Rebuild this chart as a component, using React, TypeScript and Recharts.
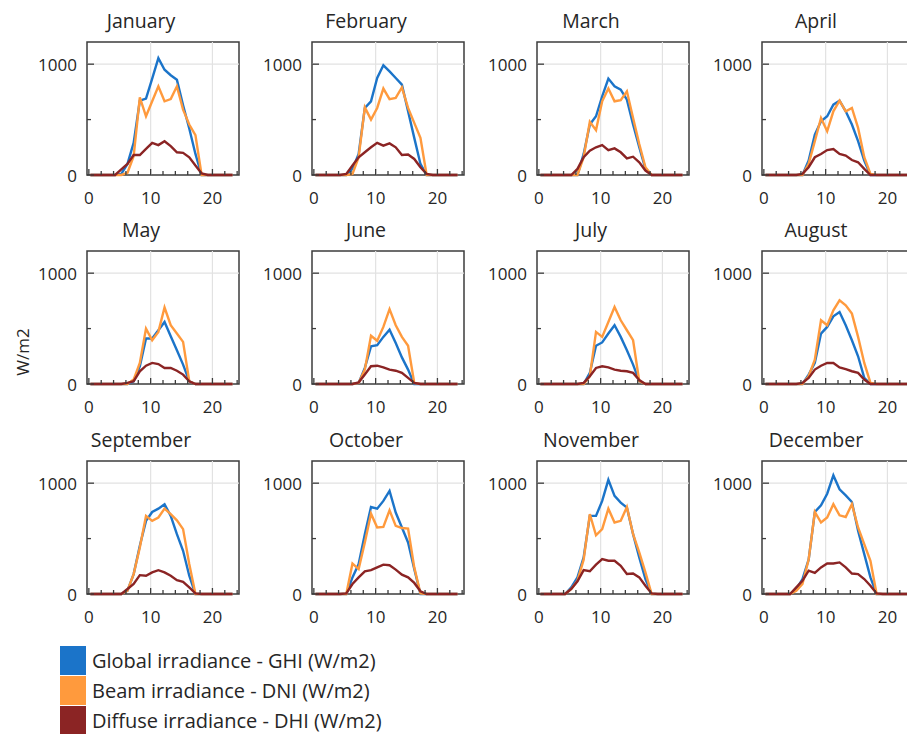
import React from 'react';
import { LineChart, Line, XAxis, YAxis, ReferenceLine, ReferenceArea } from 'recharts';

// hourly sample positions (hour of day)
const HOURS = [
  0.25, 1.25, 2.25, 3.25, 4.25, 5.25, 6.25, 7.25, 8.25, 9.25, 10.25, 11.25,
  12.25, 13.25, 14.25, 15.25, 16.25, 17.25, 18.25, 19.25, 20.25, 21.25, 22.25, 23.25,
];

const MONTHS = [
  'January', 'February', 'March', 'April', 'May', 'June',
  'July', 'August', 'September', 'October', 'November', 'December',
];

// Global irradiance - GHI (W/m2), one row per month, hours 0..23
const GHI = [
  [0, 0, 0, 0, 0, 10, 100, 290, 670, 690, 870, 1055, 950, 900, 860, 630, 420, 190, 0, 0, 0, 0, 0, 0],
  [0, 0, 0, 0, 0, 0, 55, 190, 605, 665, 875, 990, 935, 875, 815, 575, 335, 100, 0, 0, 0, 0, 0, 0],
  [0, 0, 0, 0, 0, 0, 0, 190, 455, 530, 710, 870, 800, 770, 680, 455, 250, 55, 0, 0, 0, 0, 0, 0],
  [0, 0, 0, 0, 0, 0, 0, 130, 365, 485, 530, 635, 670, 575, 455, 305, 130, 0, 0, 0, 0, 0, 0, 0],
  [0, 0, 0, 0, 0, 0, 0, 25, 160, 410, 410, 485, 560, 430, 305, 175, 25, 0, 0, 0, 0, 0, 0, 0],
  [0, 0, 0, 0, 0, 0, 0, 10, 145, 340, 350, 425, 490, 370, 240, 130, 0, 0, 0, 0, 0, 0, 0, 0],
  [0, 0, 0, 0, 0, 0, 0, 0, 100, 345, 375, 455, 530, 425, 305, 175, 25, 0, 0, 0, 0, 0, 0, 0],
  [0, 0, 0, 0, 0, 0, 0, 85, 190, 455, 515, 610, 650, 530, 395, 250, 55, 0, 0, 0, 0, 0, 0, 0],
  [0, 0, 0, 0, 0, 0, 30, 180, 435, 660, 740, 770, 810, 705, 540, 390, 165, 0, 0, 0, 0, 0, 0, 0],
  [0, 0, 0, 0, 0, 0, 150, 270, 540, 785, 770, 840, 930, 735, 600, 465, 225, 0, 0, 0, 0, 0, 0, 0],
  [0, 0, 0, 0, 0, 60, 150, 330, 705, 705, 840, 1030, 885, 825, 780, 540, 330, 135, 0, 0, 0, 0, 0, 0],
  [0, 0, 0, 0, 0, 45, 135, 310, 740, 800, 905, 1070, 945, 890, 830, 570, 360, 150, 0, 0, 0, 0, 0, 0],
];

// Beam irradiance - DNI (W/m2)
const DNI = [
  [0, 0, 0, 0, 0, 0, 20, 170, 700, 530, 665, 800, 665, 685, 800, 590, 455, 360, 0, 0, 0, 0, 0, 0],
  [0, 0, 0, 0, 0, 0, 10, 160, 610, 500, 605, 780, 685, 695, 790, 605, 470, 335, 0, 0, 0, 0, 0, 0],
  [0, 0, 0, 0, 0, 0, 0, 160, 480, 405, 665, 780, 665, 675, 755, 515, 280, 70, 0, 0, 0, 0, 0, 0],
  [0, 0, 0, 0, 0, 0, 0, 100, 305, 515, 395, 575, 670, 575, 605, 425, 160, 10, 0, 0, 0, 0, 0, 0],
  [0, 0, 0, 0, 0, 0, 0, 40, 190, 500, 395, 470, 690, 530, 455, 380, 25, 0, 0, 0, 0, 0, 0, 0],
  [0, 0, 0, 0, 0, 0, 0, 10, 130, 435, 390, 515, 675, 530, 425, 345, 10, 0, 0, 0, 0, 0, 0, 0],
  [0, 0, 0, 0, 0, 0, 0, 0, 70, 470, 425, 560, 695, 575, 485, 395, 25, 0, 0, 0, 0, 0, 0, 0],
  [0, 0, 0, 0, 0, 0, 0, 70, 220, 575, 530, 665, 755, 710, 635, 425, 190, 10, 0, 0, 0, 0, 0, 0],
  [0, 0, 0, 0, 0, 0, 30, 180, 420, 705, 660, 690, 770, 720, 665, 585, 270, 0, 0, 0, 0, 0, 0, 0],
  [0, 0, 0, 0, 0, 0, 275, 225, 465, 725, 600, 605, 755, 615, 595, 590, 240, 5, 0, 0, 0, 0, 0, 0],
  [0, 0, 0, 0, 0, 45, 120, 310, 720, 530, 585, 770, 645, 660, 785, 540, 375, 195, 0, 0, 0, 0, 0, 0],
  [0, 0, 0, 0, 0, 30, 90, 310, 740, 645, 690, 810, 710, 695, 810, 600, 450, 300, 0, 0, 0, 0, 0, 0],
];

// Diffuse irradiance - DHI (W/m2)
const DHI = [
  [0, 0, 0, 0, 0, 50, 100, 180, 180, 235, 290, 270, 305, 260, 205, 200, 160, 85, 15, 0, 0, 0, 0, 0],
  [0, 0, 0, 0, 0, 10, 85, 160, 205, 250, 290, 265, 285, 250, 180, 185, 145, 70, 10, 0, 0, 0, 0, 0],
  [0, 0, 0, 0, 0, 0, 55, 160, 220, 250, 270, 225, 240, 205, 150, 165, 115, 40, 0, 0, 0, 0, 0, 0],
  [0, 0, 0, 0, 0, 0, 10, 70, 160, 190, 225, 235, 190, 175, 135, 115, 55, 0, 0, 0, 0, 0, 0, 0],
  [0, 0, 0, 0, 0, 0, 10, 25, 115, 165, 190, 180, 145, 145, 120, 85, 25, 0, 0, 0, 0, 0, 0, 0],
  [0, 0, 0, 0, 0, 0, 0, 15, 85, 160, 165, 150, 130, 120, 100, 55, 10, 0, 0, 0, 0, 0, 0, 0],
  [0, 0, 0, 0, 0, 0, 0, 10, 70, 145, 160, 150, 130, 120, 115, 100, 35, 0, 0, 0, 0, 0, 0, 0],
  [0, 0, 0, 0, 0, 0, 10, 55, 130, 165, 190, 190, 150, 135, 115, 100, 40, 0, 0, 0, 0, 0, 0, 0],
  [0, 0, 0, 0, 0, 0, 45, 90, 170, 165, 195, 215, 195, 165, 125, 110, 60, 5, 0, 0, 0, 0, 0, 0],
  [0, 0, 0, 0, 0, 5, 90, 150, 205, 215, 240, 265, 260, 220, 175, 150, 100, 25, 0, 0, 0, 0, 0, 0],
  [0, 0, 0, 0, 0, 45, 115, 215, 205, 265, 315, 300, 300, 255, 180, 185, 150, 75, 5, 0, 0, 0, 0, 0],
  [0, 0, 0, 0, 0, 60, 120, 210, 190, 240, 275, 275, 285, 240, 185, 180, 135, 75, 5, 0, 0, 0, 0, 0],
];

const X_TICKS = [0, 2, 4, 6, 8, 10, 12, 14, 16, 18, 20, 22, 24];
const Y_TICKS = [0, 500, 1000];

const SERIES = [
  { key: 'ghi', name: 'Global irradiance - GHI (W/m2)', color: '#1b74c9' },
  { key: 'dni', name: 'Beam irradiance - DNI (W/m2)', color: '#ff9a3d' },
  { key: 'dhi', name: 'Diffuse irradiance - DHI (W/m2)', color: '#8b2424' },
];

const FONT = '"Open Sans", "Noto Sans", sans-serif';
const TEXT = '#262626';
const AXIS = '#3c3c3c';

// panel plot-area placement
const COL_LEFT = [87, 312, 537, 762];
const ROW_TOP = [42, 251, 461];
const PLOT_W = 152;
const PLOT_H = 133;
const Y_AXIS_W = 55;
const M_TOP = 5;
const M_RIGHT = 5;
const X_AXIS_H = 40;

const XTick = (props: any) => {
  const { x, y, payload } = props;
  const major = payload.value % 10 === 0;
  return (
    <g>
      <line x1={x} x2={x} y1={y} y2={y - (major ? 6 : 4)} stroke={AXIS} strokeWidth={1.3} />
      {major && (
        <text x={x} y={y + 22} textAnchor="middle" dominantBaseline="central" fontSize={17} fill={TEXT} fontFamily={FONT}>
          {payload.value}
        </text>
      )}
    </g>
  );
};

const YTick = (props: any) => {
  const { x, y, payload } = props;
  const major = payload.value % 1000 === 0;
  return (
    <g>
      <line x1={x} x2={x + (major ? 7 : 4)} y1={y} y2={y} stroke={AXIS} strokeWidth={1.3} />
      {major && (
        <text x={x - 10} y={y} textAnchor="end" dominantBaseline="central" fontSize={17} fill={TEXT} fontFamily={FONT}>
          {payload.value}
        </text>
      )}
    </g>
  );
};

const MonthPanel = ({ m }: { m: number }) => {
  const data = HOURS.map((h, i) => ({ h, ghi: GHI[m][i], dni: DNI[m][i], dhi: DHI[m][i] }));
  const left = COL_LEFT[m % 4];
  const top = ROW_TOP[Math.floor(m / 4)];
  return (
    <>
      <div
        style={{
          position: 'absolute', left: left + 54 - 70, top: top - 35, width: 140, textAlign: 'center',
          fontFamily: FONT, fontSize: 19.5, color: TEXT, lineHeight: '28px', whiteSpace: 'nowrap',
        }}
      >
        {MONTHS[m]}
      </div>
      <div style={{ position: 'absolute', left: left - Y_AXIS_W, top: top - M_TOP }}>
        <LineChart
          width={Y_AXIS_W + PLOT_W + M_RIGHT}
          height={M_TOP + PLOT_H + X_AXIS_H}
          data={data}
          margin={{ top: M_TOP, right: M_RIGHT, left: 0, bottom: 0 }}
        >
          <XAxis
            dataKey="h" type="number" domain={[-0.3, 24.3]} ticks={X_TICKS} interval={0}
            axisLine={false} tickLine={false} tickSize={0} tickMargin={0} height={X_AXIS_H} tick={<XTick />}
          />
          <YAxis
            type="number" domain={[0, 1200]} ticks={Y_TICKS} interval={0}
            axisLine={false} tickLine={false} tickSize={0} tickMargin={0} width={Y_AXIS_W} tick={<YTick />}
          />
          <ReferenceLine x={10} stroke="#e2e2e2" strokeWidth={1.2} />
          <ReferenceLine x={20} stroke="#e2e2e2" strokeWidth={1.2} />
          <ReferenceLine y={1000} stroke="#e2e2e2" strokeWidth={1.2} />
          {SERIES.map((s) => (
            <Line
              key={s.key} type="linear" dataKey={s.key} stroke={s.color} strokeWidth={2.4}
              dot={false} activeDot={false} isAnimationActive={false}
            />
          ))}
          <ReferenceArea x1={-0.3} x2={24.3} y1={0} y2={1200} fill="none" stroke={AXIS} strokeWidth={1.5} />
        </LineChart>
      </div>
    </>
  );
};

export default function App() {
  return (
    <div
      style={{
        position: 'absolute', left: 0, top: 0, width: 907, height: 734, overflow: 'hidden',
        background: '#fff', fontFamily: FONT,
      }}
    >
      {MONTHS.map((_, m) => (
        <MonthPanel key={m} m={m} />
      ))}
      <div
        style={{
          position: 'absolute', left: 22, top: 352, transform: 'translate(-50%, -50%) rotate(-90deg)',
          fontSize: 17, color: TEXT, whiteSpace: 'nowrap',
        }}
      >
        W/m2
      </div>
      <div style={{ position: 'absolute', left: 60, top: 645 }}>
        {SERIES.map((s) => (
          <div key={s.key} style={{ display: 'flex', alignItems: 'center', height: 30 }}>
            <div style={{ width: 26, height: 29, background: s.color }} />
            <span style={{ marginLeft: 6, fontSize: 20, color: TEXT, whiteSpace: 'nowrap' }}>{s.name}</span>
          </div>
        ))}
      </div>
    </div>
  );
}
